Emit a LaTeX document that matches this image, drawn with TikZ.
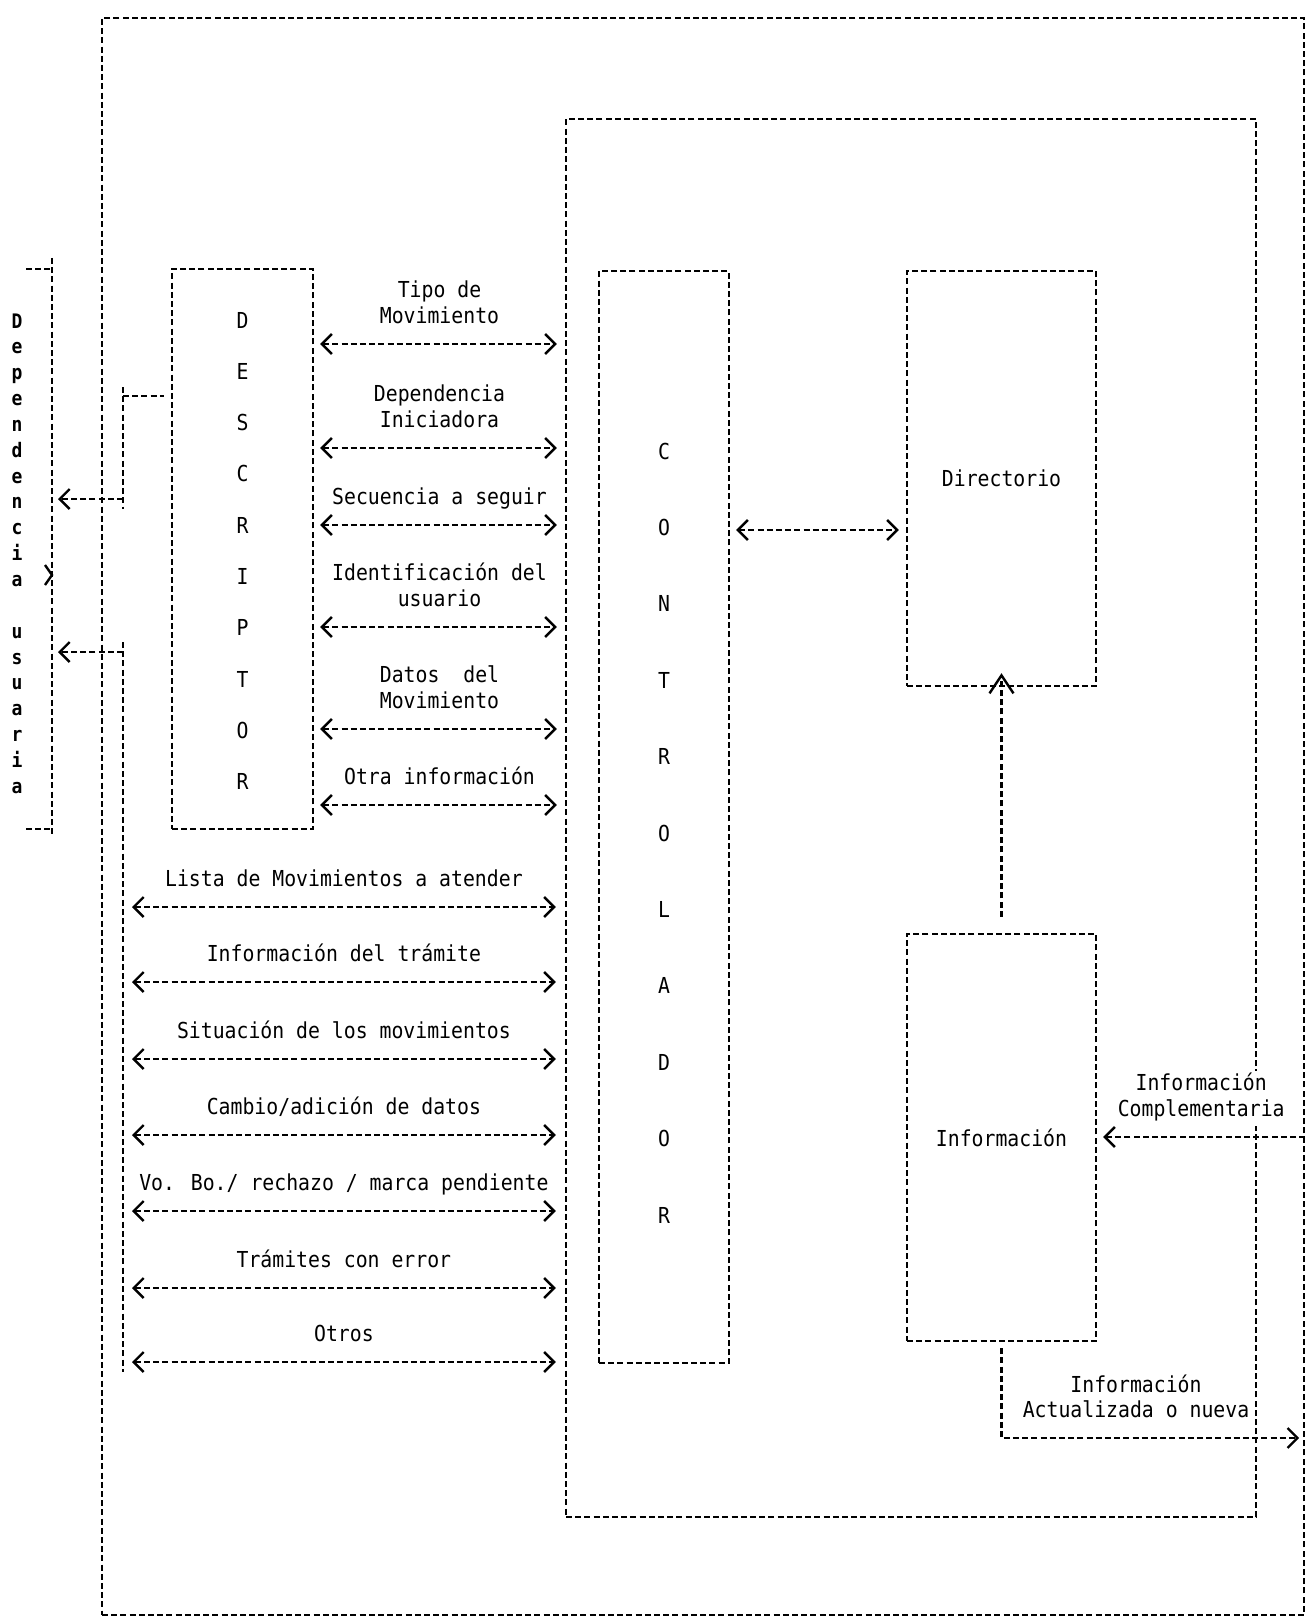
\documentclass[tikz,border=0pt]{standalone}
\usepackage{fontspec}
\newfontfamily\matrixfont[FakeStretch=0.9]{DejaVu Sans Mono}
\usepackage{tikz}
\usetikzlibrary{arrows.meta,positioning,fit}
\tikzset{
  link/.style={line width=1.2pt,dash pattern=on 3pt off 1.6pt},
  box/.style={draw,line width=1.2pt,dash pattern=on 3pt off 1.6pt,inner sep=0pt},
  barb/.style={-{Straight Barb[length=5pt,width=10pt]}},
  dbarb/.style={{Straight Barb[length=5pt,width=10pt]}-{Straight Barb[length=5pt,width=10pt]}},
  lab/.style={align=center,inner sep=1pt,execute at end node=\strut},
}

\begin{document}
\begin{tikzpicture}[x=0.5pt,y=-0.5pt,font=\matrixfont\fontsize{11}{12.7}\selectfont]
    \useasboundingbox (0,0) rectangle (1313,1621);
    \node[box,fit={(102,18) (1304,1615)}] (outer) {};
    \node[box,fit={(566,119) (1256,1517)}] (sis) {};
    \node[box,fit={(172,269) (313,829)}] (desc) {};
    \node[box,fit={(599,271) (729,1363)}] (ctrl) {};
    \node[box,fit={(907,271) (1096,686)}] (dir) {};
    \node[box,fit={(907,934) (1096,1341)}] (info) {};
    \node (dirlab) at (dir) {Directorio};
    \node (infolab) at (info) {Información};

    \foreach \l [count=\i from 0,evaluate=\i as \yy using 320+51.3*\i] in {D,E,S,C,R,I,P,T,O,R}
      \node (desc\i) at (desc.center |- 0,\yy) {\l};
    \foreach \l [count=\i from 0,evaluate=\i as \yy using 451+76.4*\i] in {C,O,N,T,R,O,L,A,D,O,R}
      \node (ctrl\i) at (ctrl.center |- 0,\yy) {\l};

    % dependencia usuaria
    \foreach \l [count=\i from 0,evaluate=\i as \yy using 328+25.85*\i] in {D,e,p,e,n,d,e,n,c,i,a,,u,s,u,a,r,i,a}
      \node[anchor=base,font=\matrixfont\bfseries] (dep\i) at (17,\yy) {\l};
    \coordinate (brk) at (52,258);
    \draw[link] (26,269) -- (brk |- 0,269);
    \draw[link] (brk) -- (52,837);
    \draw[link] (26,829) -- (brk |- 0,829);
    \draw[line width=1.2pt] (45,565) -- (52,575) -- (45,585);

    \coordinate (busA) at (123,387);
    \coordinate (busAend) at (123,509);
    \coordinate (busB) at (123,642);
    \coordinate (busBend) at (123,1372);
    \draw[link] (busA) -- (busAend);
    \draw[link,shorten >=3.5pt] (busA |- 0,396) -- (desc.west |- 0,396);
    \draw[link,barb,shorten >=3pt] (busA |- 0,499) -- (brk |- 0,499);
    \draw[link] (busB) -- (busBend);
    \draw[link,barb,shorten >=3pt] (busB |- 0,652) -- (brk |- 0,652);

    \foreach \yy/\txt in {344/{Tipo de\\Movimiento},448/{Dependencia\\Iniciadora},525/{Secuencia a seguir},
        627/{Identificación del\\usuario},729/{Datos\ \ del\\Movimiento},805/{Otra información}}
      \draw[link,dbarb,shorten <=3pt,shorten >=4pt] (desc.east |- 0,\yy) -- (sis.west |- 0,\yy)
        node[lab,midway,above=5pt] {\txt};
    \foreach \yy/\txt in {907/{Lista de Movimientos a atender},982/{Información del trámite},
        1059/{Situación de los movimientos},1135/{Cambio/adición de datos},
        1211/{Vo. Bo./ rechazo / marca pendiente},1288/{Trámites con error},1362/{Otros}}
      \draw[link,dbarb,shorten <=4.5pt,shorten >=4.5pt] (busB |- 0,\yy) -- (sis.west |- 0,\yy)
        node[lab,midway,above=5pt] {\txt};

    \draw[link,dbarb,shorten <=3pt,shorten >=3.5pt] (ctrl.east |- 0,530) -- (dir.west |- 0,530);
    \draw[link,-{Straight Barb[length=9pt,width=12pt]},shorten <=8pt,shorten >=-7pt] (info.north) -- (dir.south);
    \draw[link,barb,shorten >=3pt] (outer.east |- 0,1137) -- (info.east |- 0,1137)
      node[lab,midway,above=5pt,fill=white] {Información\\Complementaria};
    \coordinate (actual) at (1136,1438);
    \draw[link,barb,shorten >=3pt] ([yshift=-3pt]info.south) |- (outer.east |- actual);
    \node[lab,above=5pt] (actlab) at (actual) {Información\\Actualizada o nueva};
\end{tikzpicture}
\end{document}
